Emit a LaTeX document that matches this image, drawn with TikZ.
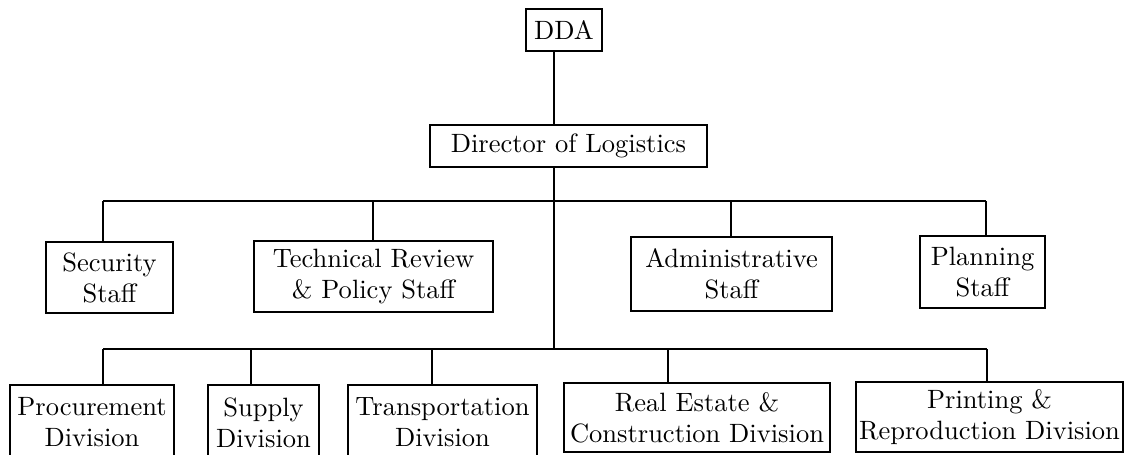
\documentclass[tikz,border=0pt]{standalone}
\usepackage{tikz}
\usetikzlibrary{positioning, calc}

\begin{document}
\begin{tikzpicture}[x=0.4pt, y=-0.4pt, line width=0.8pt, unit/.style={draw, align=center, inner sep=0pt, font=\fontsize{10.6pt}{12.4pt}\selectfont}]
				\useasboundingbox (0,0) rectangle (1125,454);
				
				\node [unit, minimum width=30.4pt, minimum height=16.8pt] (dda) at (564,30) {DDA};
				\node [unit, minimum width=110.8pt, minimum height=16.8pt] (dir) at (568.5,146) {Director of Logistics};
				
				\node [unit, minimum width=50.8pt, minimum height=28.4pt] (sec) at (109.5,277.5) {Security\\Staff};
				\node [unit, minimum width=95.6pt, minimum height=28.4pt] (tech) at (373.5,276.5) {Technical Review\\\& Policy Staff};
				\node [unit, minimum width=80.4pt, minimum height=29.6pt] (admin) at (731.5,274) {Administrative\\Staff};
				\node [unit, minimum width=50pt, minimum height=28.8pt] (plan) at (982.5,272) {Planning\\Staff};
				
				\node [unit, minimum width=65.6pt, minimum height=30pt] (proc) at (92,422.5) {Procurement\\Division};
				\node [unit, minimum width=44.4pt, minimum height=30pt] (supply) at (263.5,422.5) {Supply\\Division};
				\node [unit, minimum width=75.6pt, minimum height=30pt] (transp) at (442.5,422.5) {Transportation\\Division};
				\node [unit, minimum width=106.4pt, minimum height=27.6pt] (estate) at (697,417.5) {Real Estate \&\\Construction Division};
				\node [unit, minimum width=106.8pt, minimum height=28pt] (print) at (989.5,417) {Printing \&\\Reproduction Division};
				
				\coordinate (sbus) at (554,201);
				\coordinate (dbus) at (554,349);
				\coordinate (tsec) at (103,201);
				\coordinate (ttech) at (373,201);
				\coordinate (tadmin) at (731,201);
				\coordinate (tplan) at (986,201);
				\coordinate (tproc) at (103,349);
				\coordinate (tsupply) at (251,349);
				\coordinate (ttransp) at (432,349);
				\coordinate (testate) at (668,349);
				\coordinate (tprint) at (987,349);
				
				\draw (dda.south -| sbus) -- (dir.north -| sbus);
				\draw (dir.south -| sbus) -- (dbus);
				\draw (tsec) -- (tplan);
				\draw (tproc) -- (tprint);
				
				\foreach \n in {sec, tech, admin, plan, proc, supply, transp, estate, print}
					\draw (t\n) -- (t\n |- \n.north);
\end{tikzpicture}
\end{document}
